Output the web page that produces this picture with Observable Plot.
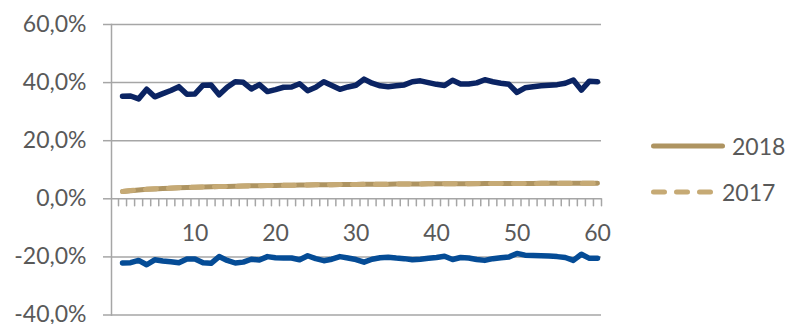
<!DOCTYPE html>
<html>
<head>
<meta charset="utf-8">
<script src="https://cdn.jsdelivr.net/npm/d3@7"></script>
<script src="https://cdn.jsdelivr.net/npm/@observablehq/plot@0.6"></script>
<style>
  body { margin: 0; background: #fff; font-family: Lato, "Open Sans", sans-serif; }
  #wrap { position: relative; width: 785px; height: 324px; overflow: hidden; }
  .legend-row { position: absolute; left: 649px; height: 30px; display: flex; align-items: center;
                font-size: 23px; color: #595959; }
  .legend-row svg { display: block; margin-right: 5px; }
</style>
</head>
<body>
<div id="wrap"></div>
<script>
// Period index (1..60)
const periods = d3.range(1, 61);

// Upper band (%)
const upper = [
  35.3, 35.4, 34.4, 37.7, 35.1, 36.2, 37.3, 38.6, 36.0, 36.1,
  39.1, 39.2, 35.8, 38.4, 40.3, 40.1, 37.8, 39.3, 36.9, 37.6,
  38.4, 38.5, 39.6, 37.2, 38.4, 40.3, 39.0, 37.7, 38.5, 39.1,
  41.2, 39.8, 38.9, 38.6, 38.9, 39.2, 40.3, 40.6, 40.0, 39.4,
  39.0, 40.8, 39.5, 39.5, 39.9, 41.0, 40.3, 39.8, 39.4, 36.6,
  38.2, 38.6, 38.9, 39.1, 39.3, 39.8, 40.9, 37.4, 40.5, 40.3
];

// Lower band (%)
const lower = [
  -22.1, -22.0, -21.2, -22.7, -21.0, -21.4, -21.7, -22.0, -20.7, -20.7,
  -22.0, -22.2, -19.9, -21.2, -22.1, -21.8, -20.8, -21.1, -19.9, -20.3,
  -20.4, -20.4, -21.0, -19.6, -20.6, -21.3, -20.8, -19.9, -20.4, -20.9,
  -21.8, -20.8, -20.3, -20.1, -20.4, -20.6, -21.0, -20.8, -20.5, -20.2,
  -19.8, -20.9, -20.2, -20.4, -20.9, -21.2, -20.6, -20.3, -20.0, -18.8,
  -19.4, -19.5, -19.6, -19.7, -19.9, -20.2, -21.2, -19.1, -20.5, -20.5
];

// 2018 (%)
const y2018 = [
  2.50, 2.80, 3.05, 3.25, 3.40, 3.55, 3.67, 3.78, 3.88, 3.97,
  4.05, 4.13, 4.20, 4.27, 4.33, 4.39, 4.45, 4.50, 4.55, 4.60,
  4.64, 4.68, 4.72, 4.76, 4.80, 4.83, 4.86, 4.89, 4.92, 4.95,
  4.98, 5.00, 5.02, 5.04, 5.06, 5.08, 5.10, 5.12, 5.14, 5.15,
  5.17, 5.18, 5.20, 5.21, 5.22, 5.24, 5.25, 5.26, 5.27, 5.28,
  5.29, 5.30, 5.31, 5.32, 5.33, 5.34, 5.35, 5.36, 5.37, 5.38
];

// 2017 (%)
const y2017 = [
  2.55, 2.82, 3.06, 3.26, 3.42, 3.56, 3.68, 3.79, 3.89, 3.98,
  4.06, 4.14, 4.21, 4.28, 4.34, 4.40, 4.45, 4.51, 4.56, 4.60,
  4.65, 4.69, 4.73, 4.77, 4.80, 4.84, 4.87, 4.90, 4.93, 4.95,
  4.98, 5.01, 5.03, 5.05, 5.07, 5.09, 5.10, 5.12, 5.14, 5.16,
  5.17, 5.19, 5.20, 5.21, 5.23, 5.24, 5.25, 5.26, 5.27, 5.28,
  5.29, 5.30, 5.31, 5.32, 5.33, 5.34, 5.35, 5.36, 5.37, 5.38
];

const yTicks = [-40, -20, 0, 20, 40, 60];
const xLabels = [10, 20, 30, 40, 50, 60];
const legendLabels = ["2018", "2017"];

const gridColor = "#a6a6a6";
const textColor = "#595959";
const navy = "#0b2463";
const blue = "#054c96";
const tanDark = "#ae9461";
const tanLight = "#c6aa75";

const rows = (vals) => periods.map((p, i) => ({p, v: vals[i]}));
const fmtPct = d => d.toFixed(1).replace(".", ",") + "%";

// category boundaries carry the small tick marks hanging under the zero line
const boundaries = d3.range(0.5, 61, 1);
const tickShape = {draw(ctx, l) { ctx.moveTo(0, 0); ctx.lineTo(0, -l); }};

const lineStyle = {x: "p", y: "v", strokeWidth: 5.5, strokeLinejoin: "round", strokeLinecap: "round"};

const chart = Plot.plot({
  width: 785,
  height: 324,
  marginLeft: 111,
  marginRight: 184,
  marginTop: 24,
  marginBottom: 9.5,
  x: {domain: [-0.37, 60.5], axis: null},
  y: {domain: [-40, 60], axis: null},
  style: {fontFamily: "Lato, 'Open Sans', sans-serif", fontSize: "23px", color: textColor, background: "#fff"},
  marks: [
    Plot.ruleY(yTicks, {stroke: gridColor, strokeWidth: 1.5}),
    Plot.axisY(yTicks, {tickSize: 8, tickPadding: 17, tickFormat: fmtPct, stroke: gridColor,
                        strokeWidth: 1.5, fill: textColor, fontSize: 23, label: null}),
    Plot.frame({anchor: "left", stroke: gridColor, strokeWidth: 1.5}),
    Plot.vector(boundaries, {x: d => d, y: 0, length: 7, rotate: 180, anchor: "start",
                             shape: tickShape, stroke: gridColor, strokeWidth: 1.5}),
    Plot.text(xLabels, {x: d => d, y: 0, dy: 35, text: d => String(d), fill: textColor, fontSize: 23}),
    Plot.line(rows(upper), {...lineStyle, stroke: navy}),
    Plot.line(rows(lower), {...lineStyle, stroke: blue}),
    Plot.line(rows(y2018), {...lineStyle, strokeWidth: 5, stroke: tanDark}),
    Plot.line(rows(y2017), {...lineStyle, strokeWidth: 5, stroke: tanLight, strokeDasharray: "11,12"})
  ]
});

const wrap = document.getElementById("wrap");
wrap.appendChild(chart);

// Legend on the right
const legendSpecs = [
  {label: legendLabels[0], color: tanDark, dash: null, len: 74, top: 131},
  {label: legendLabels[1], color: tanLight, dash: "11,12", len: 64, top: 177}
];
for (const s of legendSpecs) {
  const row = document.createElement("div");
  row.className = "legend-row";
  row.style.top = s.top + "px";
  const svg = d3.create("svg").attr("width", s.len + 4).attr("height", 10);
  svg.append("line")
    .attr("x1", 4.5).attr("x2", s.len - 0.5).attr("y1", 5).attr("y2", 5)
    .attr("stroke", s.color).attr("stroke-width", 5).attr("stroke-linecap", "round")
    .attr("stroke-dasharray", s.dash);
  row.appendChild(svg.node());
  const span = document.createElement("span");
  span.textContent = s.label;
  row.appendChild(span);
  wrap.appendChild(row);
}
</script>
</body>
</html>
